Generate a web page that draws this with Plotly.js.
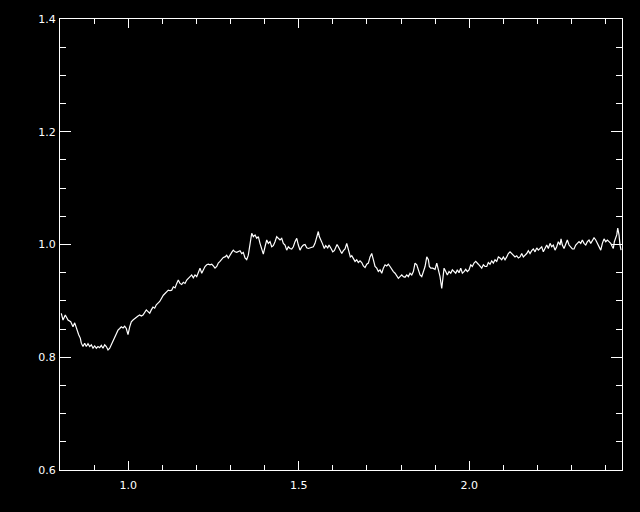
<!DOCTYPE html>
<html>
<head>
<meta charset="utf-8">
<script src="https://cdn.plot.ly/plotly-3.0.1.min.js"></script>
<style>html,body{margin:0;padding:0;background:#000;}#chart{width:640px;height:512px;}</style>
</head>
<body>
<div id="chart"></div>
<script>
const wavelength = [
0.8038,0.8088,0.8155,0.8235,0.8314,0.8381,0.8431,0.8478,0.8528,0.8548,0.8595,0.8625,0.8674,0.8724,0.8771,0.8821,0.8871,0.8918,0.8968,0.9018,
0.9065,0.9114,0.9164,0.9211,0.9261,0.9311,0.9358,0.9408,0.9458,0.9504,0.9554,0.9604,0.9651,0.9701,0.9751,0.9798,0.9848,0.9897,0.9944,0.9994,
1.0044,1.0091,1.0141,1.0191,1.0238,1.0288,1.0337,1.0384,1.0434,1.0484,1.0531,1.0581,1.0631,1.0677,1.0727,1.0777,1.0824,1.0874,1.0924,
1.1030,1.1129,1.1176,1.1226,1.1276,1.1323,1.1373,1.1423,1.1469,1.1519,1.1569,1.1616,1.1666,1.1716,1.1763,1.1812,1.1862,1.1909,1.1959,1.2009,
1.2056,1.2106,1.2156,1.2203,1.2252,1.2302,1.2349,1.2399,1.2449,1.2496,1.2546,1.2596,1.2642,1.2692,1.2742,1.2789,1.2839,1.2889,1.2936,1.2986,
1.3035,1.3082,1.3132,1.3182,1.3229,1.3279,1.3329,1.3375,1.3425,1.3475,1.3522,1.3572,1.3622,1.3669,1.3719,1.3769,1.3816,1.3865,1.3915,1.3962,
1.4012,1.4062,1.4109,1.4159,
1.4208,1.4255,1.4305,1.4355,1.4402,1.4452,1.4502,1.4549,1.4598,1.4648,1.4695,1.4745,1.4795,1.4842,1.4892,1.4942,1.4989,1.5038,1.5088,1.5135,
1.5185,1.5235,1.5282,1.5332,1.5382,1.5429,1.5478,1.5528,1.5575,1.5604,1.5654,1.5692,1.5751,1.5792,1.5851,1.5889,1.5948,1.5998,1.6044,1.6086,
1.6124,1.6162,1.6212,1.6262,1.6309,1.6358,1.6408,1.6437,1.6475,1.6514,1.6555,1.6602,1.6652,1.6701,1.6748,1.6798,1.6848,1.6895,1.6945,1.6995,
1.7042,1.7092,1.7141,1.7188,1.7238,
1.7288,1.7335,1.7385,1.7435,1.7482,1.7532,1.7581,1.7628,1.7678,1.7728,1.7775,1.7825,1.7875,1.7922,1.7971,1.8021,1.8068,1.8118,1.8168,1.8215,
1.8265,1.8315,1.8362,1.8411,1.8461,1.8508,1.8558,1.8608,1.8655,1.8705,1.8755,1.8802,1.8831,1.8872,1.8931,1.8998,1.9048,1.9095,1.9144,1.9194,
1.9224,1.9262,1.9312,1.9358,1.9408,1.9458,1.9505,1.9554,1.9604,1.9651,1.9701,1.9751,1.9798,1.9848,1.9898,1.9945,1.9994,2.0044,2.0091,2.0141,
2.0191,
2.0267,2.0317,2.0367,2.0414,2.0464,2.0514,2.0560,2.0610,2.0660,2.0707,2.0757,2.0807,2.0854,2.0903,2.0953,2.1000,2.1050,2.1100,2.1147,2.1197,
2.1247,2.1294,2.1343,2.1393,2.1440,2.1490,2.1540,2.1587,2.1637,2.1687,2.1733,2.1783,2.1833,2.1880,2.1930,2.1980,2.2027,2.2076,2.2126,2.2173,
2.2223,2.2273,2.2320,2.2370,2.2419,2.2466,2.2516,2.2566,2.2613,2.2663,2.2692,2.2730,2.2780,2.2830,2.2877,2.2927,2.2977,2.3024,2.3073,2.3123,
2.3170,2.3220,2.3270,2.3317,2.3367,2.3417,2.3464,2.3513,2.3563,2.3610,2.3660,2.3710,2.3757,2.3807,2.3857,2.3904,2.3953,2.4003,2.4050,2.4100,
2.4150,2.4197,2.4226,2.4256,2.4297,2.4326,2.4355,2.4393,2.4422,2.4452
];
const flux = [
0.878,0.866,0.875,0.866,0.863,0.854,0.861,0.852,0.843,0.840,0.834,0.825,0.819,0.825,0.819,0.824,0.819,0.822,0.816,0.820,
0.816,0.819,0.817,0.821,0.816,0.822,0.819,0.813,0.816,0.822,0.828,0.834,0.840,0.848,0.851,0.854,0.852,0.855,0.851,0.840,
0.854,0.863,0.866,0.869,0.871,0.873,0.875,0.873,0.875,0.881,0.884,0.881,0.878,0.884,0.889,0.887,0.893,0.896,0.899,
0.910,0.916,0.919,0.918,0.919,0.925,0.923,0.931,0.937,0.931,0.929,0.933,0.931,0.937,0.940,0.943,0.946,0.941,0.946,0.943,
0.952,0.958,0.949,0.955,0.961,0.964,0.965,0.964,0.965,0.962,0.958,0.961,0.967,0.970,0.973,0.977,0.978,0.981,0.976,0.980,
0.986,0.990,0.987,0.986,0.987,0.989,0.984,0.986,0.976,0.973,0.981,0.999,1.020,1.014,1.017,1.011,1.014,1.002,0.990,0.983,
0.996,1.008,1.002,1.005,
0.996,0.998,1.005,1.014,1.011,1.008,1.011,1.002,0.999,0.990,0.996,0.993,0.992,0.996,1.005,1.011,0.999,0.990,0.996,0.999,
1.000,0.994,0.993,0.994,0.994,0.996,1.002,1.011,1.023,1.014,1.005,1.002,0.993,0.998,0.994,0.999,0.993,0.987,0.989,0.996,
1.000,0.996,0.989,0.984,0.989,0.992,1.002,0.996,0.984,0.978,0.980,0.976,0.970,0.973,0.968,0.971,0.968,0.962,0.959,0.965,
0.967,0.978,0.984,0.973,0.961,
0.958,0.952,0.955,0.949,0.958,0.964,0.962,0.965,0.961,0.955,0.952,0.949,0.944,0.940,0.943,0.946,0.943,0.942,0.946,0.943,
0.949,0.946,0.952,0.967,0.964,0.955,0.946,0.943,0.952,0.961,0.978,0.973,0.961,0.958,0.958,0.956,0.967,0.955,0.943,0.922,
0.943,0.958,0.952,0.946,0.952,0.949,0.955,0.952,0.949,0.955,0.950,0.958,0.949,0.952,0.956,0.952,0.955,0.964,0.961,0.967,
0.970,
0.965,0.961,0.958,0.964,0.961,0.961,0.968,0.965,0.971,0.967,0.973,0.970,0.978,0.976,0.973,0.978,0.973,0.978,0.984,0.987,
0.984,0.981,0.978,0.980,0.976,0.978,0.984,0.978,0.981,0.984,0.989,0.984,0.989,0.992,0.987,0.994,0.990,0.993,0.996,0.987,
0.993,0.999,0.993,1.002,0.996,0.999,0.990,0.996,1.005,0.999,1.010,0.999,0.993,1.002,1.008,0.999,0.996,0.992,0.992,0.999,
1.002,1.005,1.002,1.008,1.002,0.999,1.005,1.008,1.002,1.006,1.012,1.008,1.002,0.994,0.990,1.002,1.010,1.005,1.008,1.005,
1.002,0.996,0.993,1.005,1.011,1.017,1.029,1.017,0.999,0.990
];
const xTickStep = 0.5;
const yTickStep = 0.2;
const xRange = [0.8, 2.448];
const yRange = [0.6, 1.4];

const axisCommon = {
  showgrid: false,
  zeroline: false,
  showline: true,
  linecolor: '#ffffff',
  linewidth: 1,
  mirror: 'ticks',
  ticks: 'inside',
  tickcolor: '#ffffff',
  tickwidth: 1,
  tickformat: '.1f',
  tickfont: {family: 'DejaVu Sans, sans-serif', size: 11, color: '#ffffff'}
};

Plotly.newPlot('chart', [{
  x: wavelength,
  y: flux,
  type: 'scatter',
  mode: 'lines',
  line: {color: '#ffffff', width: 1.2},
  hoverinfo: 'skip'
}], {
  width: 640,
  height: 512,
  paper_bgcolor: '#000000',
  plot_bgcolor: '#000000',
  showlegend: false,
  margin: {l: 60, r: 18, t: 19, b: 42, pad: 0},
  xaxis: Object.assign({}, axisCommon, {
    range: xRange, tick0: 0, dtick: xTickStep, ticklen: 9, ticklabelstandoff: 5,
    minor: {dtick: 0.1, tick0: 0, ticklen: 5, ticks: 'inside', tickcolor: '#ffffff', tickwidth: 1, showgrid: false}
  }),
  yaxis: Object.assign({}, axisCommon, {
    range: yRange, tick0: 0, dtick: yTickStep, ticklen: 11, ticklabelstandoff: 1,
    minor: {dtick: 0.05, tick0: 0, ticklen: 6, ticks: 'inside', tickcolor: '#ffffff', tickwidth: 1, showgrid: false}
  })
}, {staticPlot: true});
</script>
</body>
</html>
